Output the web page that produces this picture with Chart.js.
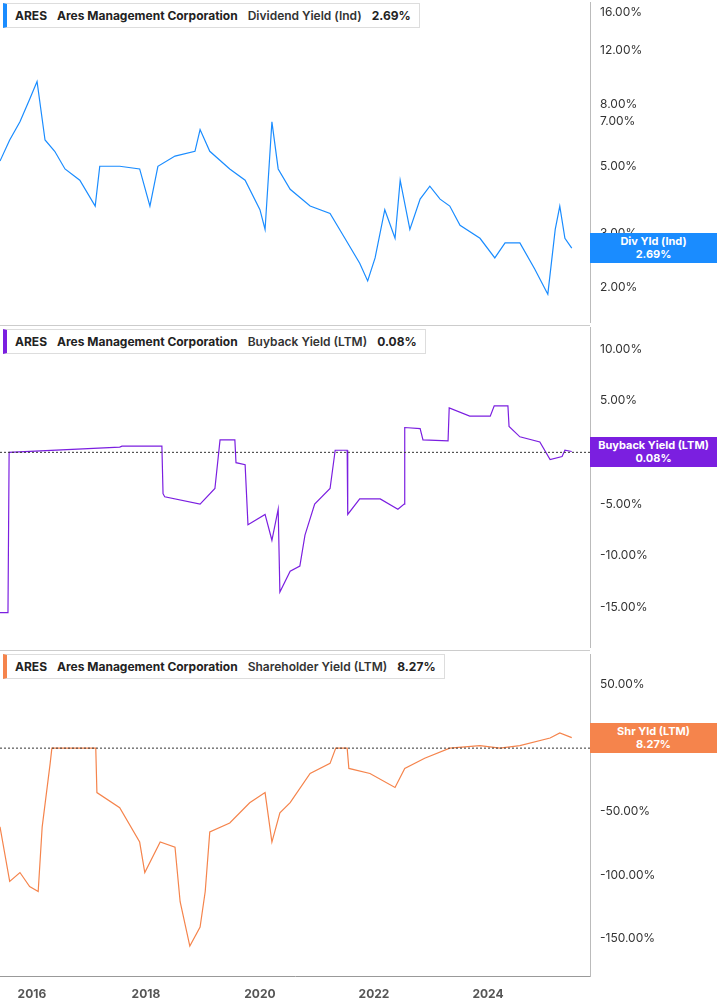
<!DOCTYPE html>
<html><head><meta charset="utf-8">
<script src="https://cdn.jsdelivr.net/npm/chart.js@4"></script>
<style>
body{margin:0;background:#fff;width:717px;height:1005px;overflow:hidden;font-family:Inter,"Open Sans",sans-serif;position:relative}
.p{position:absolute;left:0;width:717px}
.sep{position:absolute;left:0;width:590px;height:1px;background:#ccc}
.leg{position:absolute;left:3px;background:#fff;border:1px solid #ddd;border-left:4px solid;font-size:12px;font-weight:bold;color:#222;padding:4px 8px;white-space:nowrap}
.leg span{margin-right:10px}
.leg .n{font-weight:600;color:#333}
.tag{position:absolute;left:590px;width:127px;color:#fff;font-size:11px;font-weight:bold;text-align:center;line-height:13px;padding:2px 0}
</style></head><body>
<div class="p" style="top:-11px;height:347px"><canvas id="c1"></canvas></div>
<div class="p" style="top:314px;height:347px"><canvas id="c2"></canvas></div>
<div class="p" style="top:641px;height:364px"><canvas id="c3"></canvas></div>
<div class="sep" style="top:325px"></div><div class="sep" style="top:650px"></div>
<div class="leg" style="top:3px;border-left-color:#1a8cff"><span>ARES</span><span>Ares Management Corporation</span><span class="n">Dividend Yield (Ind)</span>2.69%</div>
<div class="leg" style="top:329px;border-left-color:#7b1fe0"><span>ARES</span><span>Ares Management Corporation</span><span class="n">Buyback Yield (LTM)</span>0.08%</div>
<div class="leg" style="top:654px;border-left-color:#f5844c"><span>ARES</span><span>Ares Management Corporation</span><span class="n">Shareholder Yield (LTM)</span>8.27%</div>
<div id="t1" class="tag" style="background:#1a8cff">Div Yld (Ind)<br>2.69%</div>
<div id="t2" class="tag" style="background:#7b1fe0">Buyback Yield (LTM)<br>0.08%</div>
<div id="t3" class="tag" style="background:#f5844c">Shr Yld (LTM)<br>8.27%</div>
<script>
const divYears=[2015.44,2015.61,2015.79,2015.96,2016.09,2016.23,2016.40,2016.58,2016.84,2017.11,2017.19,2017.54,2017.89,2018.07,2018.21,2018.51,2018.86,2018.95,2019.12,2019.47,2019.74,2020.00,2020.09,2020.21,2020.32,2020.53,2020.88,2021.23,2021.49,2021.75,2021.89,2022.02,2022.19,2022.37,2022.46,2022.63,2022.81,2022.98,2023.16,2023.33,2023.51,2023.86,2024.12,2024.30,2024.56,2024.82,2025.05,2025.18,2025.26,2025.35,2025.47];
const divValues=[5.2,6.1,7.0,8.3,9.5,6.1,5.6,4.9,4.5,3.7,5.0,5.0,4.9,3.7,5.0,5.4,5.6,6.6,5.6,4.9,4.5,3.6,3.1,7.0,4.9,4.2,3.7,3.5,2.9,2.4,2.1,2.5,3.6,2.9,4.5,3.1,3.9,4.3,3.9,3.7,3.2,2.9,2.5,2.8,2.8,2.3,1.9,3.1,3.7,2.9,2.69];
const bbYears=[2015.44,2015.58,2015.60,2017.54,2017.58,2018.28,2018.30,2018.33,2018.95,2019.21,2019.30,2019.56,2019.58,2019.74,2019.79,2020.09,2020.21,2020.32,2020.35,2020.53,2020.70,2020.79,2020.96,2021.23,2021.32,2021.53,2021.54,2021.75,2022.11,2022.42,2022.53,2022.54,2022.81,2022.86,2023.30,2023.32,2023.68,2024.04,2024.11,2024.12,2024.35,2024.37,2024.56,2024.91,2025.09,2025.30,2025.35,2025.47];
const bbValues=[-15.5,-15.5,0,0.5,0.6,0.6,-4.0,-4.3,-5.0,-3.5,1.2,1.2,-1.0,-1.2,-7.0,-6.0,-8.5,-5.5,-13.5,-11.5,-11.0,-8.0,-5.0,-3.5,0.2,0.2,-6.0,-4.5,-4.5,-5.5,-5.0,2.4,2.3,1.2,1.1,4.3,3.5,3.5,4.5,4.5,4.5,2.5,1.5,1.0,-0.7,-0.4,0.2,0.08];
const shYears=[2015.44,2015.61,2015.79,2015.96,2016.11,2016.18,2016.32,2016.35,2017.12,2017.14,2017.54,2017.89,2017.98,2018.25,2018.51,2018.60,2018.77,2018.95,2019.04,2019.12,2019.47,2019.82,2020.09,2020.21,2020.35,2020.53,2020.88,2021.23,2021.33,2021.53,2021.56,2021.93,2022.37,2022.54,2022.89,2023.33,2023.86,2024.21,2024.56,2025.09,2025.26,2025.47];
const shValues=[-62,-105,-98,-109,-113,-62,-12,0,0,-35,-47,-74,-98,-74,-78,-121,-156,-141,-113,-66,-59,-43,-35,-74,-51,-43,-20,-12,0,0,-16,-20,-31,-16,-8,0,2,0,2,8,12,8.27];
const xTicks=[2016,2018,2020,2022,2024];
const divTicks=[2,3,5,7,8,12,16];
const bbTicks=[-15,-10,-5,0,5,10];
const shTicks=[-150,-100,-50,0,50];

const tickFont={family:'Inter',size:12};
function zeroLine(chart){const y=chart.scales.y.getPixelForValue(0),a=chart.chartArea,c=chart.ctx;c.save();c.setLineDash([2,2]);c.strokeStyle='#333';c.beginPath();c.moveTo(a.left,y);c.lineTo(a.right,y);c.stroke();c.restore();}
function tagPos(chart,id,v,off){const y=chart.scales.y.getPixelForValue(v);const el=document.getElementById(id);el.style.top=(off+y-15)+'px';}
function mk(id,years,vals,color,ticks,yopt,showX,off,tid,fmt){
  const ctx=document.getElementById(id);
  return new Chart(ctx,{type:'line',
    data:{datasets:[{data:years.map((x,i)=>({x,y:vals[i]})),borderColor:color,borderWidth:1.2,pointRadius:0,tension:0}]},
    options:{responsive:true,maintainAspectRatio:false,animation:false,
      layout:{padding:0},plugins:{legend:{display:false},tooltip:{enabled:false}},
      scales:{
        x:{type:'linear',min:2015.44,max:2025.79,display:showX,
           afterBuildTicks:s=>{s.ticks=xTicks.map(v=>({value:v}))},
           ticks:{callback:v=>String(v),color:'#555',font:{family:'Inter',size:12,weight:'bold'},maxRotation:0},
           grid:{display:false,drawTicks:true},border:{color:'#999'}},
        y:Object.assign({position:'right',
           afterBuildTicks:s=>{s.ticks=ticks.map(v=>({value:v}))},
           afterFit:s=>{s.width=127},
           ticks:{callback:fmt,color:'#333',font:tickFont,padding:6},
           grid:{display:false,drawTicks:true,tickLength:4},border:{color:'#bbb'}},yopt)}},
    plugins:[{id:'z',afterDatasetsDraw(c){if(id!=='c1')zeroLine(c);tagPos(c,tid,vals[vals.length-1],off);}}]
  });
}
const pct=v=>v.toFixed(2)+'%';
mk('c1',divYears,divValues,'#1a8cff',divTicks,{type:'logarithmic',min:1.53,max:17.3},false,-11,'t1',pct);
mk('c2',bbYears,bbValues,'#7b1fe0',bbTicks,{type:'linear',min:-18.9,max:12.1},false,314,'t2',pct);
mk('c3',shYears,shValues,'#f5844c',shTicks,{type:'linear',min:-180,max:74},true,641,'t3',pct);
</script></body></html>
